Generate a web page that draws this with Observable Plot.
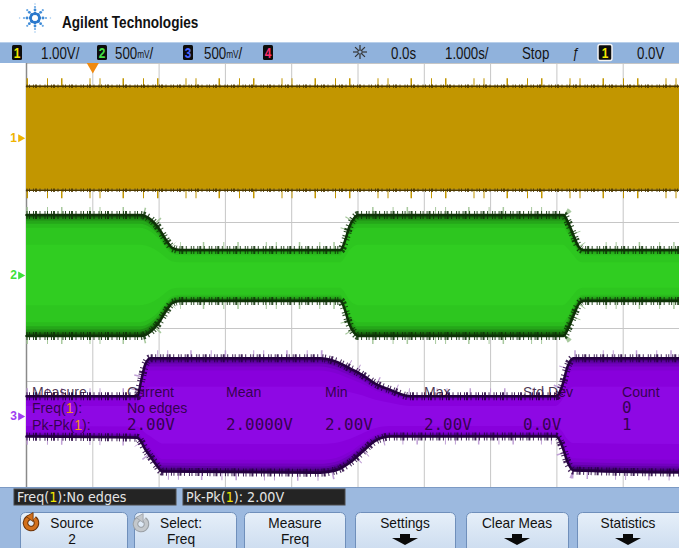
<!DOCTYPE html>
<html><head><meta charset="utf-8">
<script src="https://cdn.jsdelivr.net/npm/d3@7"></script>
<script src="https://cdn.jsdelivr.net/npm/@observablehq/plot@0.6"></script>
<style>
html,body{margin:0;padding:0;background:#fff;overflow:hidden;}
#root{position:relative;width:679px;height:548px;overflow:hidden;}
#root svg{position:absolute;left:0;}
</style></head>
<body><div id="root"></div>
<script>
// ---------- DATA ----------
// horizontal: 1.000 s/div, 10 divisions; vertical: 8 divisions
const timeTicks = [-5,-4,-3,-2,-1,0,1,2,3,4,5];
const divTicks = [-4,-3,-2,-1,0,1,2,3,4];
const triggerTime = [-4];

// Channel 1 (1.00 V/div) – constant amplitude
const ch1Time  = [-5, 5];
const ch1Upper = [0.98, 0.98];
const ch1Lower = [-0.98, -0.98];
const ch1VoltsPerDiv = 1.0;
const ch1Position = 2.59;

// Channel 2 (500 mV/div) – envelope
const ch2Time  = [-5, -3.28, -3.13, -3.01, -2.90, -2.80, -2.68, -0.26, -0.20, -0.13, -0.06, 0.00, 3.10, 3.17, 3.25, 3.33, 3.40, 5];
const ch2Upper = [0.57, 0.57, 0.53, 0.45, 0.34, 0.26, 0.24, 0.24, 0.32, 0.46, 0.54, 0.57, 0.57, 0.50, 0.38, 0.27, 0.24, 0.24];
const ch2Lower = [-0.57,-0.57,-0.53,-0.45,-0.34,-0.26,-0.24,-0.24,-0.32,-0.46,-0.54,-0.57,-0.57,-0.50,-0.38,-0.27,-0.24,-0.24];
const ch2VoltsPerDiv = 0.5;
const ch2Position = 0;

// Channel 3 (500 mV/div) – envelope
const ch3Time  = [-5, -3.33, -3.27, -3.21, -3.13, -3.04, -2.95, -0.57, -0.34, -0.11, 0.07, 0.26, 0.49, 0.79, 2.99, 3.08, 3.16, 3.25, 5];
const ch3Upper = [0.19, 0.19, 0.34, 0.49, 0.55, 0.55, 0.55, 0.55, 0.52, 0.45, 0.39, 0.31, 0.25, 0.19, 0.19, 0.29, 0.47, 0.55, 0.55];
const ch3Lower = [-0.19,-0.20,-0.24,-0.31,-0.38,-0.46,-0.52,-0.53,-0.51,-0.43,-0.33,-0.23,-0.19,-0.19,-0.19,-0.28,-0.43,-0.51,-0.53];
const ch3VoltsPerDiv = 0.5;
const ch3Position = -2.66;

// Labels
const brand = "Agilent Technologies";
const chanLabels = ["1","2","3","4"];
const scaleLabels = ["1.00V/","500","500"];
const statusLabels = ["0.0s","1.000s/","Stop","0.0V"];
const measHeader = ["Measure","Current","Mean","Min","Max","Std Dev","Count"];
const measFreq   = ["Freq(", "No edges", "", "", "", "", "0"];
const measPkPk   = ["Pk-Pk(", "2.00V", "2.0000V", "2.00V", "2.00V", "0.0V", "1"];
const infoFreq = ["Freq(", "1", "):No edges"];
const infoPkPk = ["Pk-Pk(", "1", "): 2.00V"];
const buttonTop = ["Source","Select:","Measure","Settings","Clear Meas","Statistics"];
const buttonBottom = ["2","Freq","Freq","","",""];

// ---------- PLOT ----------
const W = 679, H = 548, plotTop = 63, plotH = 424;
const SANS = '"Liberation Sans",Arial,sans-serif';

function channelMarks(time, upper, lower, vdiv, pos, layers, edge, grass, curve, edgeW) {
  const rows = time.map((t, i) => ({t, hi: upper[i] / vdiv, lo: lower[i] / vdiv}));
  const m = [];
  for (const key of ["hi", "lo"]) {
    m.push(Plot.line(rows, {x: "t", y: d => pos + d[key], stroke: grass, strokeWidth: 16, strokeOpacity: 1, strokeLinecap: "butt",
      strokeDasharray: "1.5 19 1 13 1.5 27 1 9 1 22", curve}));
  }
  for (const [f, c] of layers) {
    m.push(Plot.areaY(rows, {x: "t", y1: d => pos + f * d.lo, y2: d => pos + f * d.hi, fill: c, curve}));
  }
  for (const key of ["hi", "lo"]) {
    m.push(Plot.line(rows, {x: "t", y: d => pos + d[key], stroke: edge, strokeWidth: edgeW[0], curve}));
    m.push(Plot.line(rows, {x: "t", y: d => pos + d[key], stroke: edge, strokeWidth: edgeW[1], strokeLinecap: "butt",
      strokeDasharray: "1 1.5 1 3 1 1 2 2.5 1 4", strokeOpacity: 0.85, curve}));
  }
  return m;
}

const markers = [
  {pos: ch1Position, label: "1", color: "#f0b400"},
  {pos: ch2Position, label: "2", color: "#3ee03a"},
  {pos: ch3Position, label: "3", color: "#a040f0"}
];

const plot = Plot.plot({
  width: W, height: plotH,
  marginLeft: 26, marginRight: 0, marginTop: 0, marginBottom: 0,
  style: {background: "#fff", overflow: "hidden"},
  x: {domain: [-5, 5], range: [26, 689], axis: null},
  y: {domain: [-4, 4], range: [plotH, 0], axis: null},
  marks: [
    Plot.ruleX(timeTicks, {stroke: "#c6c6c6", strokeOpacity: 1}),
    Plot.ruleY(divTicks, {stroke: "#c6c6c6", strokeOpacity: 1}),
    Plot.ruleX(timeTicks.slice(0, 1), {stroke: "#8a8a8a", strokeOpacity: 1, strokeWidth: 1.5}),
    ...channelMarks(ch1Time, ch1Upper, ch1Lower, ch1VoltsPerDiv, ch1Position,
      [[1, "#c29600"]], "#4e3a00", "#c29600", "linear", [1.5, 3.5]),
    ...channelMarks(ch2Time, ch2Upper, ch2Lower, ch2VoltsPerDiv, ch2Position,
      [[1, "#134f0b"], [0.97, "#19700f"], [0.94, "#1f8d14"], [0.9, "#25a719"], [0.85, "#2abb1d"], [0.78, "#2dc61f"], [0.5, "#30cd21"]],
      "#0e3207", "#a8c99e", "monotone-x", [2.5, 8]),
    ...channelMarks(ch3Time, ch3Upper, ch3Lower, ch3VoltsPerDiv, ch3Position,
      [[1, "#34005a"], [0.97, "#4c0084"], [0.94, "#6000a6"], [0.9, "#7200bf"], [0.85, "#8000d2"], [0.78, "#8800dc"], [0.5, "#8e08e4"]],
      "#240040", "#c0a0d6", "monotone-x", [2.5, 8]),
    Plot.dot(triggerTime, {x: d => d, y: 4, symbol: "triangle", r: 4.5, rotate: 180, fill: "#f08a10", dy: 3}),
    Plot.text(markers, {x: -5, y: "pos", text: "label", fill: "color", dx: -13, fontSize: 12, fontWeight: "bold", fontFamily: SANS}),
    Plot.dot(markers, {x: -5, y: "pos", symbol: "triangle", r: 3, rotate: 90, fill: "color", dx: -6})
  ]
});
plot.style.top = plotTop + "px";
document.getElementById("root").appendChild(plot);

// ---------- INSTRUMENT CHROME ----------
const svg = d3.select("#root").append("svg")
  .attr("width", W).attr("height", H).style("top", "0px").style("pointer-events", "none");
const defs = svg.append("defs");
const bg = defs.append("linearGradient").attr("id", "btn").attr("x1", 0).attr("y1", 0).attr("x2", 0).attr("y2", 1);
bg.append("stop").attr("offset", "0%").attr("stop-color", "#e6eff9");
bg.append("stop").attr("offset", "100%").attr("stop-color", "#c8d9ee");

// condensed text helper (horizontal compression of Liberation Sans)
function ntext(x, y, size, opts = {}) {
  const g = svg.append("g").attr("transform", `translate(${x},${y}) scale(${opts.sx || 0.83},1)`);
  const t = g.append("text").attr("x", 0).attr("y", 0).attr("font-family", opts.family || SANS).attr("font-size", size)
    .attr("fill", opts.fill || "#141414");
  if (opts.anchor) t.attr("text-anchor", opts.anchor);
  if (opts.weight) t.attr("font-weight", opts.weight);
  if (opts.style) t.attr("font-style", opts.style);
  return t;
}

// header logo
const logo = svg.append("g").attr("transform", "translate(35,18)");
for (let k = 0; k < 8; k++) {
  const a = k * Math.PI / 4;
  [[4.5, 1.7, "#2a78cc"], [8, 1.4, "#3d8ad6"], [11, 1.1, "#6aa8e4"], [14, 0.8, "#9cc6ee"]].forEach(([r, s, c], j) => {
    if (j === 3 && k % 2 === 1) return;
    logo.append("circle").attr("cx", r * Math.cos(a) * (j === 3 ? 1.1 : 1)).attr("cy", r * Math.sin(a)).attr("r", s).attr("fill", c);
  });
  logo.append("circle").attr("cx", 4.5 * Math.cos(a + Math.PI / 8)).attr("cy", 4.5 * Math.sin(a + Math.PI / 8)).attr("r", 1.2).attr("fill", "#2a78cc");
}
ntext(62, 28, 17, {weight: "bold", fill: "#111", sx: 0.8}).text(brand);

// status bar
svg.append("rect").attr("x", 0).attr("y", 42).attr("width", W).attr("height", 21).attr("fill", "#90b2dc");
svg.append("line").attr("x1", 0).attr("x2", W).attr("y1", 42.5).attr("y2", 42.5).attr("stroke", "#b8cfea");
const boxX = [12, 97, 183, 263], boxCol = ["#f2e600", "#44e044", "#4a66ff", "#ff3070"];
chanLabels.forEach((l, i) => {
  svg.append("rect").attr("x", boxX[i]).attr("y", 45).attr("width", 10).attr("height", 15).attr("rx", 1.5).attr("fill", "#0c0c0c");
  ntext(boxX[i] + 5, 58, 14, {anchor: "middle", weight: "bold", fill: boxCol[i], sx: 0.85}).text(l);
});
const scaleX = [41, 115, 204];
scaleLabels.forEach((l, i) => {
  const t = ntext(scaleX[i], 59, 16);
  t.append("tspan").text(l);
  if (i > 0) { t.append("tspan").attr("font-size", 10).attr("dy", -1).text("mV"); t.append("tspan").attr("dy", 1).text("/"); }
});
// run/stop sun icon
const sun = svg.append("g").attr("transform", "translate(360,52)").attr("stroke", "#333").attr("stroke-width", 1.2);
for (let k = 0; k < 8; k++) { const a = k * Math.PI / 4; sun.append("line").attr("x1", 3 * Math.cos(a)).attr("y1", 3 * Math.sin(a)).attr("x2", 7 * Math.cos(a)).attr("y2", 7 * Math.sin(a)); }
sun.append("circle").attr("r", 2.2).attr("fill", "none");
const statusX = [391, 445, 522, 637];
statusLabels.forEach((l, i) => ntext(statusX[i], 59, 16).text(l));
ntext(572, 58, 15, {style: "italic"}).text("ƒ");
svg.append("rect").attr("x", 598).attr("y", 44.5).attr("width", 14).attr("height", 16).attr("rx", 2).attr("fill", "#0c0c0c").attr("stroke", "#f4f4f4").attr("stroke-width", 1.5);
ntext(605, 58, 14, {anchor: "middle", weight: "bold", fill: "#f2e600", sx: 0.85}).text("1");

// measurement overlay
const TXT = "rgba(28,0,40,0.8)", MONO = '"DejaVu Sans Mono","Liberation Mono",monospace';
const colX = measHeader.map((_, i) => i === 0 ? 32 : 28 + 99 * i);
measHeader.forEach((l, i) => ntext(colX[i], 397, 15, {fill: TXT, sx: 0.94}).text(l));
function measRow(arr, y) {
  arr.forEach((l, i) => {
    if (!l) return;
    if (i === 0) {
      const t = ntext(colX[i], y, 15, {fill: TXT, sx: 0.94});
      t.append("tspan").text(l); t.append("tspan").attr("fill", "#f09a10").text("1"); t.append("tspan").text("):");
    } else if (l === "No edges") {
      ntext(colX[i], y, 15, {fill: TXT, sx: 0.94}).text(l);
    } else {
      ntext(colX[i], y, 15, {fill: TXT, family: MONO, sx: 1.06}).text(l);
    }
  });
}
measRow(measFreq, 413);
measRow(measPkPk, 430);

// bottom panel
svg.append("rect").attr("x", 0).attr("y", 487).attr("width", W).attr("height", 61).attr("fill", "#9cb9df");
svg.append("line").attr("x1", 0).attr("x2", W).attr("y1", 487.5).attr("y2", 487.5).attr("stroke", "#7c9ac4");
[[14, infoFreq], [183, infoPkPk]].forEach(([x, parts]) => {
  svg.append("rect").attr("x", x).attr("y", 489).attr("width", 162).attr("height", 16).attr("fill", "#242424").attr("stroke", "#4a4a4a");
  const t = ntext(x + 3, 502, 14, {family: '"DejaVu Sans",sans-serif', fill: "#e4e4e4", sx: 0.91});
  t.append("tspan").text(parts[0]); t.append("tspan").attr("fill", "#f2e600").text(parts[1]); t.append("tspan").text(parts[2]);
});
const btnX = [[20, 127], [134, 236], [244, 345], [355, 455], [466, 568], [577, 690]];
const btnCx = [72, 181, 295, 405, 517, 628];
buttonTop.forEach((l, i) => {
  const [x0, x1] = btnX[i];
  svg.append("rect").attr("x", x0 + 0.5).attr("y", 512.5).attr("width", x1 - x0).attr("height", 45).attr("rx", 5)
    .attr("fill", "url(#btn)").attr("stroke", "#6f8fbb");
  ntext(btnCx[i], 528, 14, {anchor: "middle", fill: "#111", sx: 0.98}).text(l);
  if (buttonBottom[i]) {
    ntext(btnCx[i], 544, 14, {anchor: "middle", fill: "#111", sx: 0.98}).text(buttonBottom[i]);
  } else {
    const c = btnCx[i];
    svg.append("path").attr("d", `M${c-5},534H${c+5}V538H${c+13}L${c},545L${c-13},538H${c-5}Z`).attr("fill", "#0a0a0a");
  }
});
// rotate icons
function rotIcon(cx, cy, color, outline) {
  const r = 5.5;
  const a0 = -0.3 * Math.PI, a1 = 1.45 * Math.PI;
  const p = d3.path(); p.arc(cx, cy, r, a0, a1);
  svg.append("path").attr("d", p.toString()).attr("fill", "none").attr("stroke", outline).attr("stroke-width", 5.5);
  svg.append("path").attr("d", p.toString()).attr("fill", "none").attr("stroke", color).attr("stroke-width", 3.5);
  const ex = cx + r * Math.cos(a1), ey = cy + r * Math.sin(a1);
  svg.append("path").attr("d", `M${ex-4},${ey-1}L${ex+3},${ey-5}L${ex+3},${ey+4}Z`).attr("fill", color).attr("stroke", outline).attr("stroke-width", 0.8);
}
rotIcon(31, 523, "#d2701c", "#6a3208");
rotIcon(141, 524, "#c4c8cc", "#9aa0a6");
</script>
</body></html>
